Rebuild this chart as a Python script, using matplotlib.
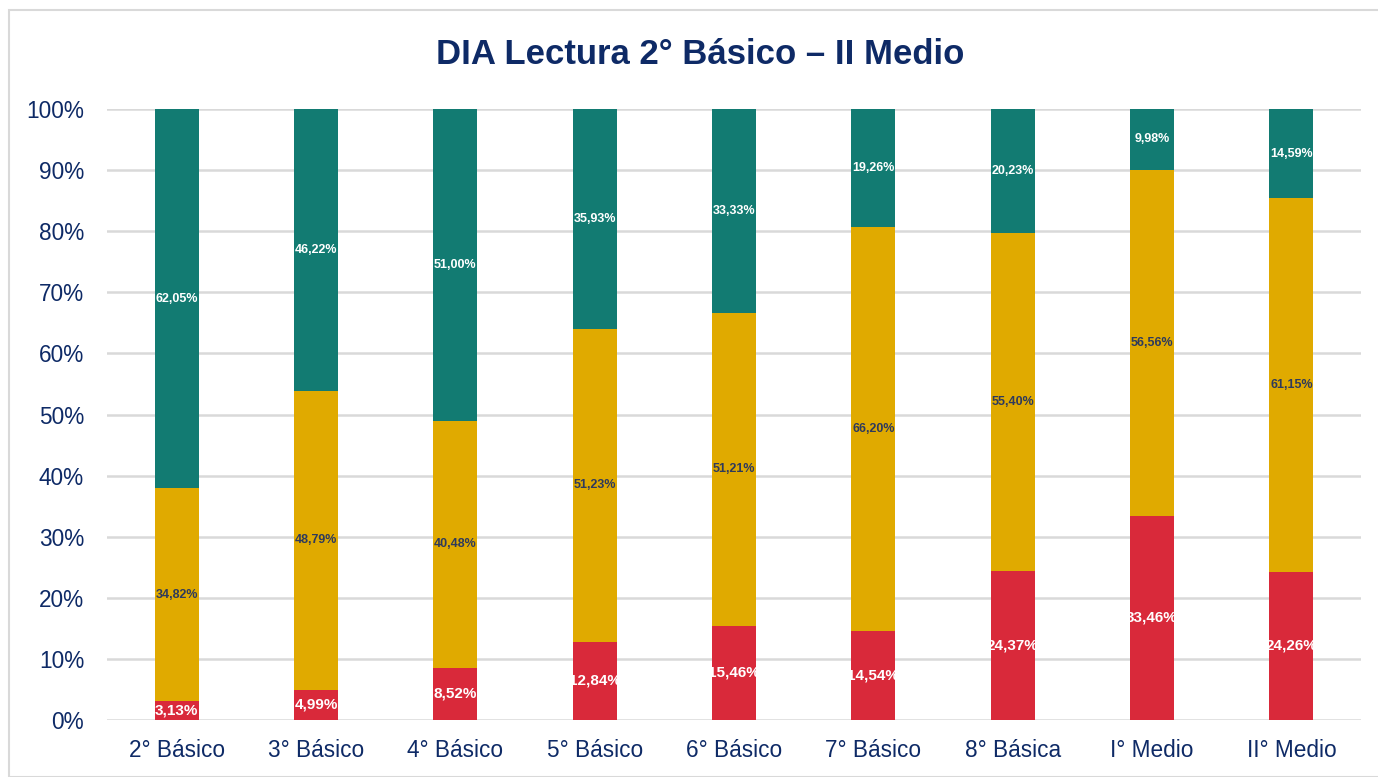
import numpy as np
import matplotlib
matplotlib.use("Agg")
import matplotlib.pyplot as plt
from matplotlib.patches import Rectangle

plt.rcParams['font.family'] = ['Liberation Sans', 'DejaVu Sans']

cursos = ["2° Básico", "3° Básico", "4° Básico", "5° Básico", "6° Básico",
          "7° Básico", "8° Básica", "I° Medio", "II° Medio"]
rojo = [3.13, 4.99, 8.52, 12.84, 15.46, 14.54, 24.37, 33.46, 24.26]
amarillo = [34.82, 48.79, 40.48, 51.23, 51.21, 66.20, 55.40, 56.56, 61.15]
verde = [62.05, 46.22, 51.00, 35.93, 33.33, 19.26, 20.23, 9.98, 14.59]

C_ROJO = "#D9293A"
C_AMA = "#E0AA00"
C_VERDE = "#127B72"
NAVY = "#0E2A66"

fig = plt.figure(figsize=(13.78, 7.77), dpi=100)
ax = fig.add_axes([107/1378, 1 - 720/777, (1361-107)/1378, (720-109)/777])

# borde del gráfico
fig.patches.append(Rectangle((9/1378, 0), 1.0, 1 - 10/777, transform=fig.transFigure,
                             fill=False, edgecolor="#D9D9D9", linewidth=1.5))

x = np.arange(len(cursos))
r = np.array(rojo); a = np.array(amarillo); v = np.array(verde)
w = 0.316
b_r = ax.bar(x, r, w, color=C_ROJO, zorder=3)
ax.bar(x, a, w, bottom=r, color=C_AMA, zorder=3)
ax.bar(x, v, w, bottom=r + a, color=C_VERDE, zorder=3)

def fmt(val):
    return f"{val:.2f}%".replace(".", ",")

for i in range(len(cursos)):
    # etiqueta roja recortada al ancho de la barra (como en el original)
    t = ax.text(x[i], r[i] / 2, fmt(r[i]), ha="center", va="center", color="white",
                fontsize=11, fontweight="bold", zorder=4)
    t.set_clip_path(b_r[i])
    ax.text(x[i], r[i] + a[i] / 2, fmt(a[i]), ha="center", va="center", color="#2E3A5C",
            fontsize=9, fontweight="bold", zorder=4)
    ax.text(x[i], r[i] + a[i] + v[i] / 2, fmt(v[i]), ha="center", va="center", color="white",
            fontsize=9, fontweight="bold", zorder=4)

ax.set_xlim(-0.5, len(cursos) - 0.5)
ax.set_ylim(0, 100)
ax.set_yticks(np.arange(0, 101, 10))
ax.set_yticklabels([f"{t}%" for t in range(0, 101, 10)])
ax.set_xticks(x)
ax.set_xticklabels(cursos)
ax.tick_params(axis="both", length=0, labelsize=16.3, labelcolor=NAVY)
ax.tick_params(axis="x", pad=14)
ax.tick_params(axis="y", pad=16.5)
ax.grid(axis="y", color="#D9D9D9", linewidth=1.8, zorder=0)
ax.set_axisbelow(True)
for s in ax.spines.values():
    s.set_visible(False)

fig.text(700/1378, 1 - 55/777, "DIA Lectura 2° Básico – II Medio", ha="center", va="center",
         fontsize=25, fontweight="bold", color=NAVY)

fig.savefig("out.png", dpi=100)
